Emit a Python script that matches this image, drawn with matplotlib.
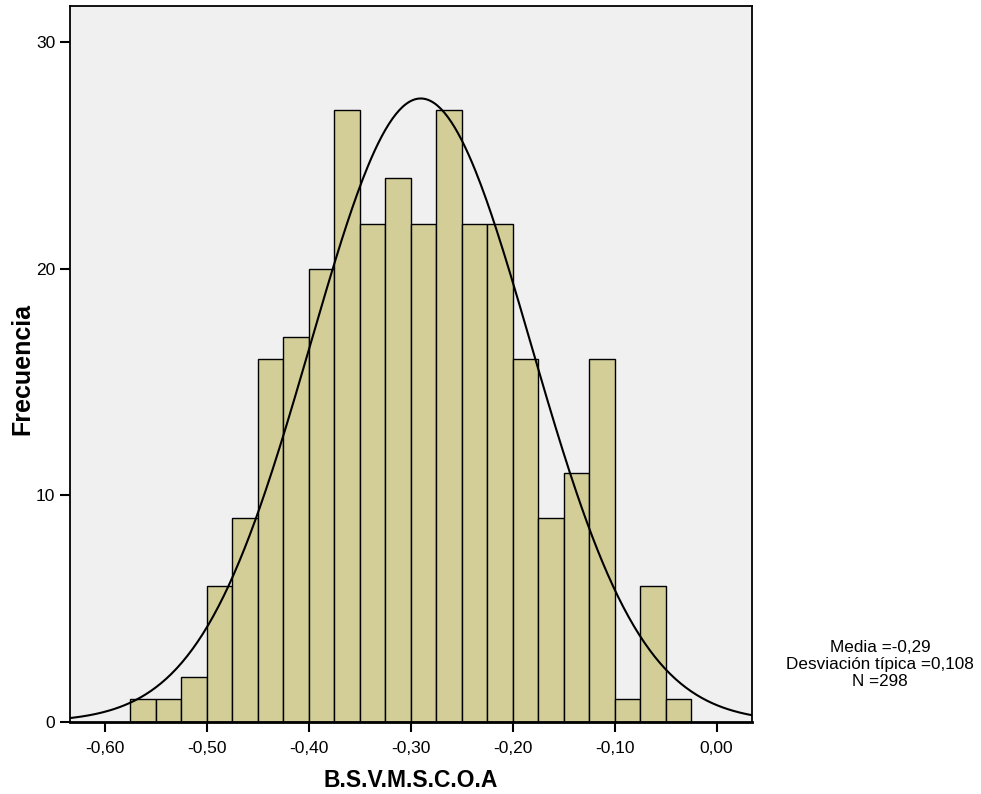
import numpy as np
import matplotlib
matplotlib.use("Agg")
import matplotlib.pyplot as plt

plt.rcParams["font.family"] = ["Liberation Sans", "DejaVu Sans"]

# histogram bins (left edges) and frequencies
bin_width = 0.025
bin_left = [-0.575 + i * bin_width for i in range(22)]
counts = [1, 1, 2, 6, 9, 16, 17, 20, 27, 22, 24,
          22, 27, 22, 22, 16, 9, 11, 16, 1, 6, 1]

mean = -0.29
std = 0.108
n = 298

x_ticks = [-0.6, -0.5, -0.4, -0.3, -0.2, -0.1, 0.0]
x_ticklabels = ["-0,60", "-0,50", "-0,40", "-0,30", "-0,20", "-0,10", "0,00"]
y_ticks = [0, 10, 20, 30]

fig = plt.figure(figsize=(9.81, 7.94), dpi=100)
ax = fig.add_axes([0.0714, 0.0907, 0.6952, 0.9017])
ax.set_facecolor("#f0f0f0")

ax.bar(bin_left, counts, width=bin_width, align="edge",
       color="#d3ce98", edgecolor="black", linewidth=1.0, zorder=2)

# normal curve scaled to counts
xs = np.linspace(-0.64, 0.04, 400)
ys = n * bin_width / (std * np.sqrt(2 * np.pi)) * np.exp(-0.5 * ((xs - mean) / std) ** 2)
ax.plot(xs, ys, color="black", lw=1.5, zorder=3)

ax.set_xlim(-0.6338, 0.0348)
ax.set_ylim(0, 31.6)
ax.set_xticks(x_ticks)
ax.set_xticklabels(x_ticklabels)
ax.set_yticks(y_ticks)
ax.tick_params(axis="both", labelsize=12.5, length=7, width=1.5, direction="out")
ax.tick_params(axis="x", pad=7)
for s in ax.spines.values():
    s.set_linewidth(1.3)
ax.spines["bottom"].set_linewidth(2)

ax.set_xlabel("B.S.V.M.S.C.O.A", fontsize=16.5, fontweight="bold", labelpad=9)
fig.text(0.0224, 0.535, "Frecuencia", rotation=90, ha="center", va="center",
         fontsize=18, fontweight="bold")

fig.text(0.897, 0.163, "Media =-0,29\nDesviación típica =0,108\nN =298",
         ha="center", va="center", fontsize=12.3, linespacing=1.15)

fig.savefig("out.png", dpi=100)
